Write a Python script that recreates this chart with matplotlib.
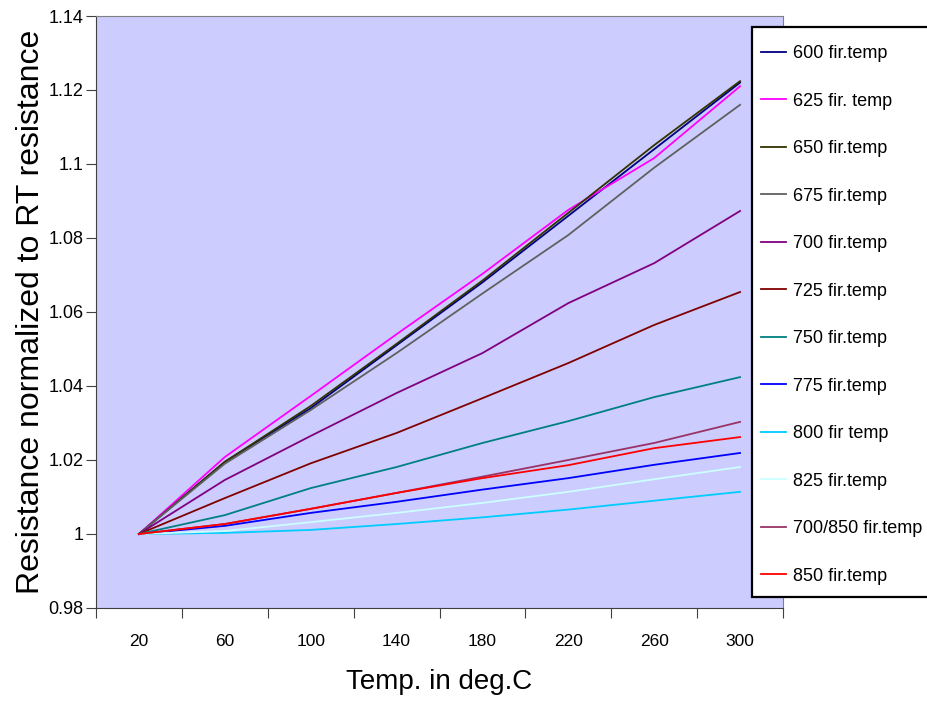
"""Resistance vs temperature for different firing temperatures."""
import numpy as np
import matplotlib
matplotlib.use("Agg")
from matplotlib import pyplot as plt
from matplotlib.patches import Rectangle
from matplotlib.ticker import FixedLocator, FixedFormatter

temps = [20, 60, 100, 140, 180, 220, 260, 300]

r600 = [1.0, 1.0195, 1.0340, 1.0510, 1.0680, 1.0860, 1.1040, 1.1220]
r625 = [1.0, 1.0208, 1.0373, 1.0540, 1.0703, 1.0876, 1.1016, 1.1210]
r650 = [1.0, 1.0195, 1.0346, 1.0514, 1.0685, 1.0868, 1.1051, 1.1224]
r675 = [1.0, 1.0190, 1.0335, 1.0489, 1.0650, 1.0808, 1.0990, 1.1160]
r700 = [1.0, 1.0146, 1.0265, 1.0381, 1.0489, 1.0624, 1.0732, 1.0873]
r725 = [1.0, 1.0097, 1.0191, 1.0273, 1.0367, 1.0462, 1.0565, 1.0654]
r750 = [1.0, 1.0051, 1.0124, 1.0181, 1.0246, 1.0305, 1.0370, 1.0424]
r775 = [1.0, 1.0022, 1.0057, 1.0087, 1.0120, 1.0151, 1.0187, 1.0219]
r800 = [1.0, 1.0003, 1.0011, 1.0027, 1.0045, 1.0066, 1.0090, 1.0114]
r825 = [1.0, 1.0008, 1.0032, 1.0057, 1.0084, 1.0114, 1.0148, 1.0181]
r700_850 = [1.0, 1.0027, 1.0068, 1.0111, 1.0155, 1.0200, 1.0246, 1.0303]
r850 = [1.0, 1.0027, 1.0068, 1.0111, 1.0151, 1.0186, 1.0232, 1.0262]

series = [
    ("600 fir.temp", r600, "#000080"),
    ("625 fir. temp", r625, "#FF00FF"),
    ("650 fir.temp", r650, "#333300"),
    ("675 fir.temp", r675, "#606060"),
    ("700 fir.temp", r700, "#800080"),
    ("725 fir.temp", r725, "#800000"),
    ("750 fir.temp", r750, "#008080"),
    ("775 fir.temp", r775, "#0000FF"),
    ("800 fir temp", r800, "#00CCFF"),
    ("825 fir.temp", r825, "#CCFFFF"),
    ("700/850 fir.temp", r700_850, "#993366"),
    ("850 fir.temp", r850, "#FF0000"),
]

yticks = [0.98, 1.0, 1.02, 1.04, 1.06, 1.08, 1.1, 1.12, 1.14]
ylabels = ["0.98", "1", "1.02", "1.04", "1.06", "1.08", "1.1", "1.12", "1.14"]

plt.rcParams["font.family"] = ["Liberation Sans", "DejaVu Sans"]

W, H = 927, 704
fig = plt.figure(figsize=(W / 100, H / 100), dpi=100)
ax = fig.add_axes([96 / W, 1 - 608 / H, 687 / W, 592 / H])
ax.set_facecolor("#CCCCFF")

x = np.arange(len(temps)) + 0.5
for label, vals, color in series:
    ax.plot(x, vals, color=color, lw=1.3, label=label)

ax.set_xlim(0, len(temps))
ax.set_ylim(0.98, 1.14)

ax.xaxis.set_major_locator(FixedLocator(np.arange(len(temps) + 1)))
ax.xaxis.set_major_formatter(FixedFormatter([""] * (len(temps) + 1)))
ax.xaxis.set_minor_locator(FixedLocator(x))
ax.xaxis.set_minor_formatter(FixedFormatter([str(t) for t in temps]))
ax.tick_params(axis="x", which="minor", length=0, pad=19, labelsize=12.5)
ax.tick_params(axis="x", which="major", length=7, direction="out", color="#404040")

ax.yaxis.set_major_locator(FixedLocator(yticks))
ax.yaxis.set_major_formatter(FixedFormatter(ylabels))
ax.tick_params(axis="y", length=7, direction="out", pad=2, labelsize=13, color="#404040")

for side in ["top", "right"]:
    ax.spines[side].set_color("#808080")
for side in ["left", "bottom"]:
    ax.spines[side].set_color("#404040")

ax.set_xlabel("Temp. in deg.C", fontsize=20, labelpad=14)
ax.set_ylabel("Resistance normalized to RT resistance", fontsize=23, labelpad=2)

# legend box runs off the right edge of the figure
fig.patches.append(Rectangle((752 / W, 1 - 597 / H), 0.3, 570 / H,
                             transform=fig.transFigure, facecolor="white",
                             edgecolor="black", lw=1.6, zorder=2))
leg = fig.legend(
    loc="upper left",
    bbox_to_anchor=(761 / W, 1 - 45 / H),
    fontsize=13,
    frameon=False,
    handlelength=1.4,
    handletextpad=0.35,
    labelspacing=1.69,
    borderpad=0,
    borderaxespad=0,
)
leg.set_zorder(3)

fig.savefig("out.png", dpi=100)
